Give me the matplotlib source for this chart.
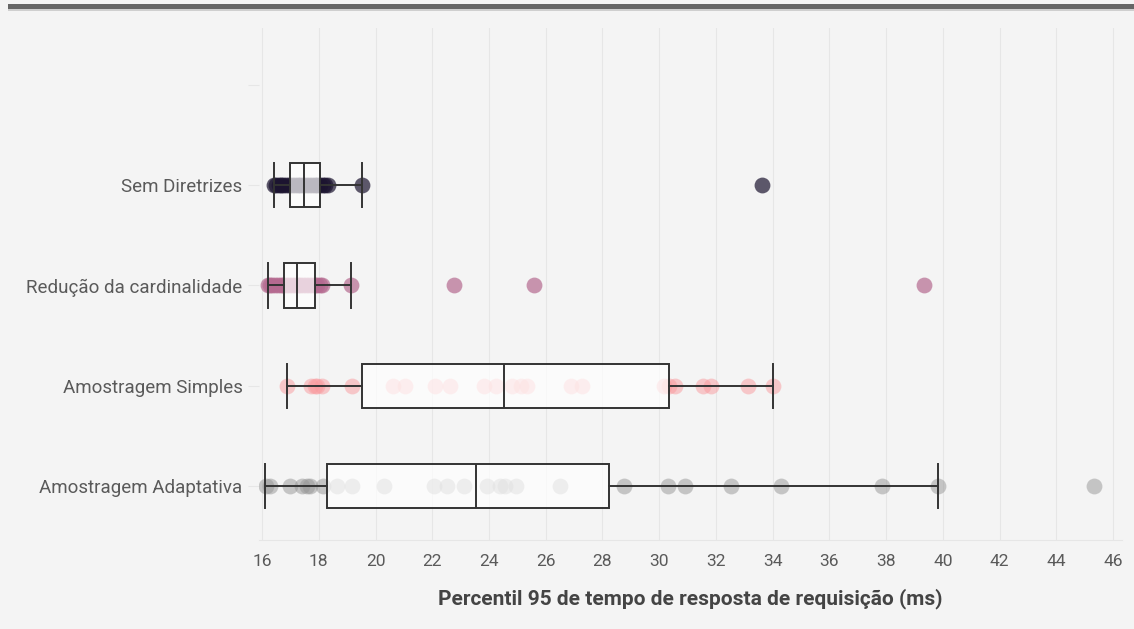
import matplotlib.pyplot as plt
from matplotlib.patches import Rectangle

# categories, top to bottom (first one is an empty slot)
labels = ['', 'Sem Diretrizes', 'Redução da cardinalidade',
          'Amostragem Simples', 'Amostragem Adaptativa']

# p95 response time samples (ms) per strategy
sem_diretrizes = [16.43, 16.5, 16.58, 16.66, 16.75, 16.85, 16.95, 17.05, 17.15,
                  17.25, 17.35, 17.45, 17.55, 17.65, 17.75, 17.85, 17.95, 18.05,
                  18.15, 18.23, 18.31, 19.54, 33.62]
reducao = [16.21, 16.28, 16.36, 16.45, 16.55, 16.65, 16.75, 16.85, 16.95, 17.05,
           17.15, 17.25, 17.35, 17.45, 17.55, 17.65, 17.75, 17.85, 17.95, 18.05,
           18.13, 19.15, 22.78, 25.58, 39.33]
simples = [16.88, 17.72, 17.85, 17.92, 18.13, 19.16, 20.62, 21.04, 22.10, 22.62,
           23.83, 24.23, 24.80, 25.14, 25.34, 26.89, 27.27, 30.16, 30.33, 30.57,
           31.54, 31.84, 33.13, 34.01]
adaptativa = [16.14, 16.28, 16.99, 17.40, 17.58, 17.69, 18.16, 18.63, 19.16,
              20.31, 22.07, 22.51, 23.13, 23.94, 24.39, 24.56, 24.95, 26.50,
              28.76, 30.32, 30.91, 32.53, 34.31, 37.85, 39.83, 45.31]

# box statistics: q1, median, q3, whisker low, whisker high
q1 = [16.99, 16.76, 19.52, 18.28]
med = [17.49, 17.24, 24.53, 23.55]
q3 = [18.04, 17.86, 30.33, 28.23]
whislo = [16.43, 16.21, 16.88, 16.12]
whishi = [19.54, 19.15, 34.01, 39.83]

series = [sem_diretrizes, reducao, simples, adaptativa]
colors = ['#1c1430', '#b56a90', '#f99a9e', '#969696']
alphas = [0.7, 0.7, 0.5, 0.5]

bg = '#f4f4f4'
text_color = '#5a5a5a'

fig = plt.figure(figsize=(11.34, 6.29), dpi=100)
fig.patch.set_facecolor(bg)
ax = fig.add_axes([0.2286, 0.1415, 0.7605, 0.814])
ax.set_facecolor(bg)

# top banner line
fig.add_artist(Rectangle((8 / 1134, 1 - 9 / 629), 1, 5 / 629,
                         transform=fig.transFigure, color='#666666', lw=0))
fig.add_artist(Rectangle((8 / 1134, 1 - 10.5 / 629), 1, 1.5 / 629,
                         transform=fig.transFigure, color='#cfcfcf', lw=0))

positions = [1, 2, 3, 4]
for pos, vals, c, a in zip(positions, series, colors, alphas):
    ax.scatter(vals, [pos] * len(vals), s=130, color=c, alpha=a,
               linewidths=0, zorder=2)

stats = []
for i in range(4):
    stats.append(dict(q1=q1[i], med=med[i], q3=q3[i],
                      whislo=whislo[i], whishi=whishi[i], fliers=[]))

line_kw = dict(color='#333333', linewidth=1.4)
ax.bxp(stats, positions=positions, orientation='horizontal', widths=0.44,
       capwidths=0.44, patch_artist=True, showfliers=False,
       boxprops=dict(facecolor=(1, 1, 1, 0.7), edgecolor='#333333', linewidth=1.4),
       medianprops=line_kw, whiskerprops=line_kw, capprops=line_kw,
       zorder=3)

ax.set_xlim(15.9, 46.3)
ax.set_ylim(4.54, -0.57)
ax.set_xticks(range(16, 47, 2))
ax.set_yticks(range(5))
ax.set_yticklabels(labels)

ax.grid(axis='x', color='#e6e6e6', linewidth=0.8)
ax.set_axisbelow(True)
for side in ['top', 'right', 'left']:
    ax.spines[side].set_visible(False)
ax.spines['bottom'].set_color('#e6e6e6')

ax.tick_params(axis='y', length=8, color='#e6e6e6', labelsize=13.5,
               labelcolor=text_color, pad=4)
ax.tick_params(axis='x', length=0, labelsize=12.5, labelcolor=text_color, pad=10)
for lab in ax.get_xticklabels() + ax.get_yticklabels():
    lab.set_family('Roboto')

ax.set_xlabel('Percentil 95 de tempo de resposta de requisição (ms)',
              fontsize=15, fontweight='bold', color='#444444',
              family='Roboto', labelpad=14)

fig.savefig('out.png', dpi=100, facecolor=bg)
